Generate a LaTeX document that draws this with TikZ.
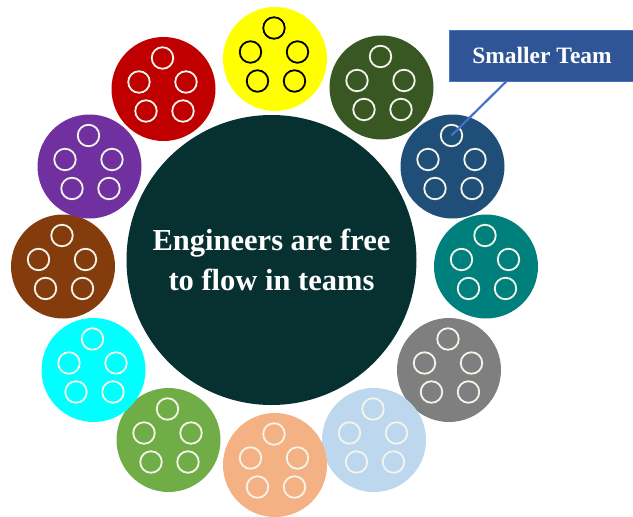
\documentclass[tikz,border=0pt]{standalone}
\usepackage{fontspec}
\setmainfont{Liberation Serif}
\definecolor{hubcol}{HTML}{073030}
\definecolor{cYellow}{HTML}{FFFF00}
\definecolor{cDkGreen}{HTML}{385723}
\definecolor{cNavy}{HTML}{1F4E79}
\definecolor{cTeal}{HTML}{00807D}
\definecolor{cGray}{HTML}{7F7F7F}
\definecolor{cLtBlue}{HTML}{BDD7EE}
\definecolor{cOrange}{HTML}{F4B183}
\definecolor{cGreen}{HTML}{70AD47}
\definecolor{cCyan}{HTML}{00FFFF}
\definecolor{cBrown}{HTML}{843C0C}
\definecolor{cPurple}{HTML}{7030A0}
\definecolor{cRed}{HTML}{C00000}
\definecolor{ring}{HTML}{F4F4EA}
\definecolor{calloutfill}{HTML}{2F5597}
\definecolor{calloutedge}{HTML}{4A72C0}
\definecolor{pointercol}{HTML}{4472C4}
\begin{document}
\begin{tikzpicture}[x=1pt,y=-1pt,
  team/.style={circle,minimum size=104pt,inner sep=0pt},
  member/.style={circle,minimum size=21.5pt,inner sep=0pt,line width=1.8pt},
  hub/.style={circle,fill=hubcol,minimum size=290pt,inner sep=0pt,text=white,
    align=center,font=\fontsize{30.5}{40}\selectfont\bfseries},
  callout/.style={rectangle,fill=calloutfill,draw=calloutedge,line width=1pt,
    minimum width=186pt,minimum height=51pt,inner sep=0pt,text=white,
    font=\fontsize{23.5}{28}\selectfont\bfseries},
  pointer/.style={draw=pointercol,line width=2.2pt}]
\useasboundingbox (0,0) rectangle (633,517);

% ring of teams, each with five members
\foreach \n/\x/\y/\c/\s in {
  yellow/275/59/cYellow/black,
  dkgreen/381.5/87.5/cDkGreen/ring,
  navy/452.5/166.5/cNavy/ring,
  teal/486/266.5/cTeal/ring,
  gray/449/370/cGray/ring,
  ltblue/374/440/cLtBlue/ring,
  orange/275/465/cOrange/ring,
  green/168.5/440/cGreen/ring,
  cyan/93.5/370/cCyan/ring,
  brown/63/266.5/cBrown/ring,
  purple/89.5/166.5/cPurple/ring,
  red/163.5/89/cRed/ring}{
  \node[team,fill=\c] (\n) at (\x,\y) {};
  \foreach \i/\dx/\dy in {1/-1/-31,2/-24.5/-7,3/22.5/-7,4/-17.5/22,5/19.5/22}
    \node[member,draw=\s] (\n-\i) at ([shift={(\dx,\dy)}]\n.center) {};
}

% central hub
\node[hub] (hub) at (271.5,260) {Engineers are free\\to flow in teams};

% callout pointing at one member
\node[callout] (callout) at (542,55.5) {Smaller Team};
\draw[pointer] (callout.216.5) -- (navy-1.center);
\end{tikzpicture}
\end{document}
